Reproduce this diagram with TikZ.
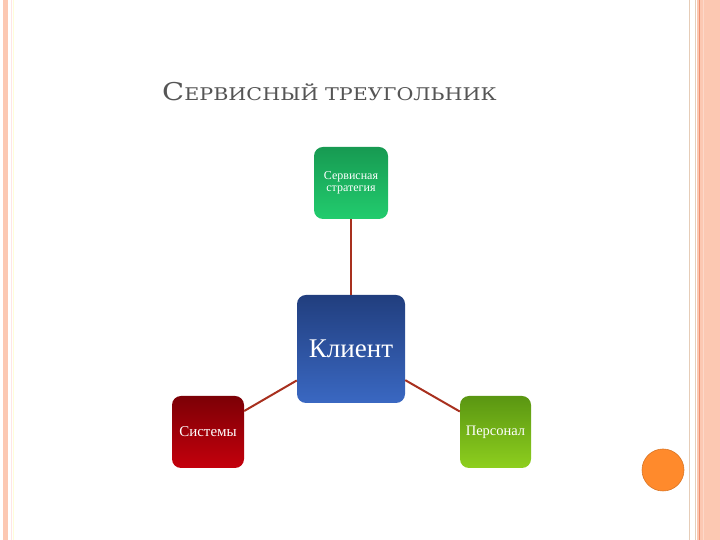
\documentclass[tikz,border=0pt]{standalone}
\usepackage{graphicx}
\usepackage{fontspec}
\setmainfont{Liberation Serif}
\newfontfamily\titlefont{DejaVu Serif}
\definecolor{peach}{HTML}{FCC8B2}
\definecolor{peachline}{HTML}{EE9070}
\definecolor{tanline}{HTML}{E6CDB8}
\definecolor{titlegray}{HTML}{555555}
\definecolor{linkred}{HTML}{A8301E}
\definecolor{dot}{HTML}{FF8A2C}
\definecolor{navytop}{HTML}{213E7E}
\definecolor{navybot}{HTML}{3A68C2}
\definecolor{greentop}{HTML}{179A52}
\definecolor{greenbot}{HTML}{22CC6E}
\definecolor{redtop}{HTML}{7C0006}
\definecolor{redbot}{HTML}{C4000C}
\definecolor{limetop}{HTML}{5A9612}
\definecolor{limebot}{HTML}{8ECF1E}

\begin{document}
\begin{tikzpicture}[x=1pt,y=1pt,
    box/.style={rounded corners=9pt,minimum width=72pt,minimum height=72pt,
        inner sep=1pt,text=white,align=center,shading angle=-30},
    link/.style={draw=linkred,line width=2pt}
]
    \useasboundingbox (0,0) rectangle (720,540);

    % side stripes
    \fill[peach] (3,0) rectangle (8,540);
    \draw[color=pink!40,line width=0.8pt] (11,0) -- (11,540);
    \draw[color=yellow!15!white,line width=0.8pt] (13.5,0) -- (13.5,540);
    \draw[tanline,line width=1pt] (689.5,0) -- (689.5,540);
    \draw[tanline,line width=1pt] (695.5,0) -- (695.5,540);
    \fill[peach] (697,0) rectangle (720,540);
    \draw[peachline,line width=0.8pt] (699.5,0) -- (699.5,540);
    \draw[peach!70!white,line width=1pt] (703,0) -- (703,540);

    % title
    \node[anchor=base west,text=titlegray,inner sep=0,font=\titlefont] (title) at (162,439)
        {\scalebox{1.18}[1]{{\fontsize{24.5}{28}\selectfont С}{\fontsize{17.5}{20}\selectfont ЕРВИСНЫЙ ТРЕУГОЛЬНИК}}};

    % boxes
    \node[box,minimum width=108pt,minimum height=108pt,font=\fontsize{27}{30}\selectfont,
        top color=navytop,bottom color=navybot] (client) at (351,191) {Клиент};
    \node[box,minimum width=74pt,shading angle=30,font=\fontsize{12}{12.5}\selectfont,
        top color=greentop,bottom color=greenbot] (strategy) at (351,357) {Сервисная\\ стратегия};
    \node[box,font=\fontsize{15}{16}\selectfont,
        top color=redtop,bottom color=redbot] (systems) at (208,108) {Системы};
    \node[box,minimum width=71pt,font=\fontsize{14.5}{16}\selectfont,
        top color=limetop,bottom color=limebot] (staff) at (495.5,108) {Персонал};

    % connectors
    \draw[link] (strategy) -- (client);
    \draw[link] (client) -- (systems);
    \draw[link] (client) -- (staff);

    \node[circle,fill=dot,draw=dot!85!black,line width=0.6pt,minimum size=42pt,inner sep=0] (mark) at (663,70) {};
\end{tikzpicture}
\end{document}
